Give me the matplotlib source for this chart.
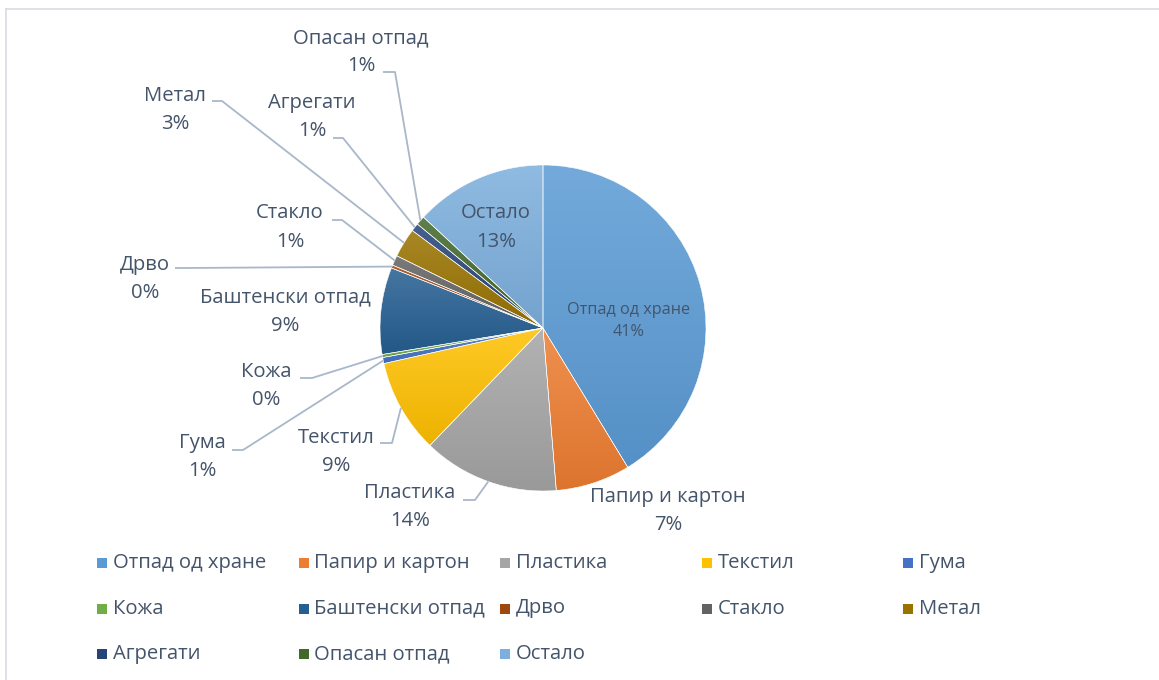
import matplotlib
matplotlib.use("Agg")
import matplotlib.pyplot as plt
import numpy as np
from matplotlib.colors import to_rgb
from matplotlib.patches import Rectangle

# waste composition, clockwise from 12 o'clock
categories = ["Отпад од хране", "Папир и картон", "Пластика", "Текстил", "Гума",
              "Кожа", "Баштенски отпад", "Дрво", "Стакло", "Метал", "Агрегати",
              "Опасан отпад", "Остало"]
shares = [41.3, 7.4, 13.5, 9.3, 0.6, 0.3, 8.6, 0.3, 1.0, 2.9, 0.8, 0.9, 13.1]
colors = ["#5B9BD5", "#ED7D31", "#A5A5A5", "#FFC000", "#4472C4", "#70AD47",
          "#255E91", "#9E480E", "#636363", "#997300", "#264478", "#43682B",
          "#7CAFDD"]

TEXT = "#44546A"
LEADER = "#A9B7CA"
FONT = ["Open Sans", "DejaVu Sans"]
FS = 14.6

W, H = 1159, 680
CX, CY, R = 543, 328, 163

# label layout in pixels: name centre, pct centre, leader polyline (start, elbow)
label_pos = {
    "Отпад од хране": ((629, 310), (629, 332), None),
    "Папир и картон": ((668, 497), (668, 525), None),
    "Пластика": ((410, 493), (410, 521), [(463, 500), (475, 500)]),
    "Текстил": ((336, 438), (336, 466), [(380, 443), (392, 443)]),
    "Гума": ((202, 443), (202, 471), [(232, 450), (243, 450)]),
    "Кожа": ((266, 372), (266, 400), [(300, 378), (312, 378)]),
    "Баштенски отпад": ((285, 297), (285, 326), None),
    "Дрво": ((145, 265), (145, 293), [(175, 268), (185, 268)]),
    "Стакло": ((290, 213), (290, 242), [(332, 220), (342, 220)]),
    "Метал": ((175, 96), (175, 124), [(212, 101), (222, 101)]),
    "Агрегати": ((312, 103), (312, 131), [(333, 138), (343, 138)]),
    "Опасан отпад": ((361, 38), (361, 66), [(383, 72), (395, 72)]),
    "Остало": ((496, 213), (496, 242), None),
}


def blend(c, other, t):
    c = np.array(to_rgb(c))
    return c * (1 - t) + np.array(other) * t


fig = plt.figure(figsize=(W / 100, H / 100), dpi=100)
ax = fig.add_axes([0, 0, 1, 1])

# y axis is inverted, so startangle=-90 + counterclock gives clockwise from top
wedges, _ = ax.pie(shares, colors=colors, startangle=-90, counterclock=True,
                   center=(CX, CY), radius=R, frame=True,
                   wedgeprops=dict(edgecolor="white", linewidth=0.4))

# excel style vertical gradient inside each slice
for w, c in zip(wedges, colors):
    ext = w.get_path().get_extents()
    top, bot = blend(c, (1, 1, 1), 0.15), blend(c, (0, 0, 0), 0.07)
    t = np.linspace(0, 1, 128)[:, None, None]
    img = np.repeat(top * (1 - t) + bot * t, 2, axis=1)
    im = ax.imshow(img, extent=(ext.x0, ext.x1, ext.y1, ext.y0),
                   origin="upper", interpolation="bilinear", zorder=1.5,
                   aspect="auto")
    im.set_clip_path(w)
    w.set_facecolor("none")
    w.set_zorder(2)

ax.set_xlim(0, W)
ax.set_ylim(H, 0)
ax.set_aspect("equal")
ax.axis("off")

for w, name, v in zip(wedges, categories, shares):
    (nx, ny), (px, py), leader = label_pos[name]
    pct = f"{int(v + 0.5)}%"
    fs = 11.7 if name == "Отпад од хране" else FS
    ax.text(nx, ny, name, ha="center", va="center", fontsize=fs,
            color=TEXT, family=FONT, zorder=4)
    ax.text(px, py, pct, ha="center", va="center", fontsize=fs,
            color=TEXT, family=FONT, zorder=4)
    if leader:
        mid = np.deg2rad((w.theta1 + w.theta2) / 2)
        end = (CX + R * np.cos(mid), CY + R * np.sin(mid))
        xs = [p[0] for p in leader] + [end[0]]
        ys = [p[1] for p in leader] + [end[1]]
        ax.plot(xs, ys, color=LEADER, lw=1.3, zorder=3, solid_capstyle="butt")

# legend laid out like excel: 5 equal columns
for i, (name, c) in enumerate(zip(categories, colors)):
    row, col = divmod(i, 5)
    x = 97 + col * 201.5
    y = 563 + row * 45.5
    ax.add_patch(Rectangle((x, y - 5), 10, 10, facecolor=c, edgecolor="none"))
    ax.text(x + 16, y, name, ha="left", va="center", fontsize=FS,
            color=TEXT, family=FONT)

# chart area border (only top and left edges fall inside the image)
ax.plot([6, W], [9, 9], color="#D9DCE1", lw=1.2)
ax.plot([6, 6], [9, H], color="#D9DCE1", lw=1.2)

fig.savefig("out.png", dpi=100)
